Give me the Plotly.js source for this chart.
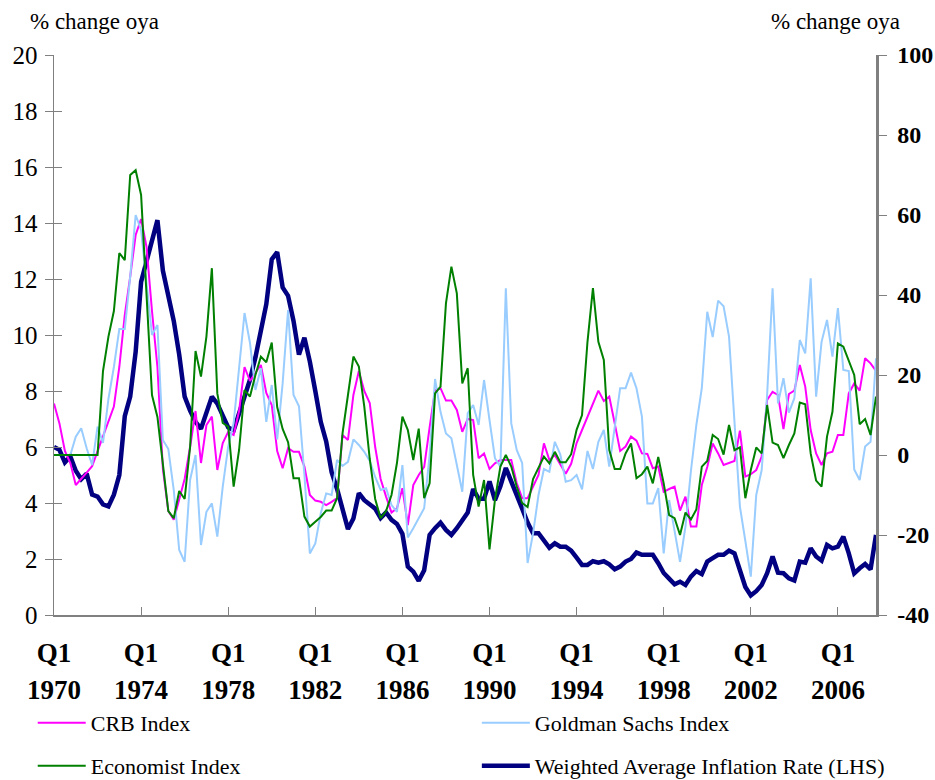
<!DOCTYPE html>
<html><head><meta charset="utf-8">
<script src="https://cdn.plot.ly/plotly-3.0.1.min.js"></script>
<style>body{margin:0;background:#fff}</style>
</head><body><div id="chart" style="width:935px;height:780px"></div>
<script>
// Quarterly categories 1970 Q1 .. 2007 Q4
const firstYear = 1970, lastYear = 2007;
const quarters = [];
for (let y = firstYear; y <= lastYear; y++) for (let q = 1; q <= 4; q++) quarters.push(y + ' Q' + q);

const tickYears = ['1970','1974','1978','1982','1986','1990','1994','1998','2002','2006'];
const leftTicks = [0, 2, 4, 6, 8, 10, 12, 14, 16, 18, 20];
const rightTicks = [-40, -20, 0, 20, 40, 60, 80, 100];

// Weighted Average Inflation Rate (LHS, %)
const inflation = [
 6.0,5.9,5.45,5.66,5.15,4.85,5.05,4.3,4.23,3.95,
 3.88,4.3,5.0,7.1,7.8,9.4,11.9,12.6,13.3,14.1,
 12.3,11.4,10.5,9.3,7.8,7.3,6.9,6.65,7.2,7.8,
 7.55,7.1,6.7,6.6,7.2,7.9,8.4,9.2,10.1,11.1,
 12.7,12.96,11.7,11.4,10.5,9.3,9.9,9.05,8.0,6.9,
 6.2,5.1,4.5,3.8,3.07,3.45,4.35,4.1,3.95,3.8,
 3.46,3.66,3.4,3.25,2.9,1.73,1.55,1.22,1.6,2.86,
 3.1,3.3,3.04,2.86,3.1,3.37,3.66,4.5,4.15,4.15,
 4.77,4.1,4.6,5.25,4.8,4.3,3.8,3.3,2.92,2.92,
 2.68,2.4,2.56,2.44,2.44,2.3,2.05,1.79,1.79,1.92,
 1.87,1.92,1.81,1.63,1.73,1.91,2.0,2.23,2.15,2.15,
 2.15,1.85,1.5,1.3,1.1,1.19,1.07,1.37,1.57,1.46,
 1.91,2.03,2.15,2.15,2.3,2.2,1.6,1.0,0.7,0.85,
 1.07,1.49,2.09,1.51,1.49,1.31,1.23,1.91,1.87,2.38,
 2.09,1.94,2.5,2.38,2.44,2.8,2.2,1.49,1.67,1.82,
 1.63,2.86];

// CRB Index (% change oya, RHS)
const crb = [
 12.9,7.9,1,-2,-7.5,-5.8,-4.4,-2.8,1,4.8,
 8.75,12.1,22,35,44.6,55,59,52,36,22,
 -3.5,-14,-16.2,-11.2,-6,2,11,-2,7.5,9.6,
 -3.75,3,5.8,5,11,22,18.5,20.5,22.5,15.5,
 12.5,1,-3.3,1.7,0.8,0.8,-2.9,-10,-11.4,-11.7,
 -12.5,-11.7,-10.8,5,3.75,15,21,16,13,2,
 -6,-10.4,-14.4,-13.3,-8.3,-17.5,-7.5,-5,-3,6.9,
 16.2,16.7,13.6,13.6,11.25,5.8,9,8.75,-0.8,0.4,
 -3.5,-2.1,-1.25,-1.25,-1.25,-7,-10.8,-10.8,-7.9,-5,
 2.9,-1.25,0,-2.3,-4.7,-2.2,3,6.25,9.6,13.1,
 16.1,13.5,14.6,7.9,1,2.1,4.6,3.6,0.4,0.25,
 -3.3,-2.9,-9.2,-8.5,-7.9,-13.9,-10.4,-17.9,-17.9,-7.5,
 -3,2.9,0.4,-2.5,-2,-1.5,6.1,-5.4,-4.8,-3.75,
 -0.4,13.75,15.8,15,6.5,15.25,16.1,22.5,17.1,6.25,
 0.4,-2.5,0.4,0.8,5,5,15.4,17.9,16.1,24.2,
 22.9,21];

// Goldman Sachs Index (% change oya, RHS)
const goldman = [
 null,null,null,0,4.6,6.7,1.7,-2.5,7.1,3,
 14,22,31.5,31.5,44.6,60,56.25,43,30,32.5,
 3.75,1.5,-8.75,-23.75,-26.7,-6.25,0,-22.5,-14.2,-12.1,
 -20.4,-7.9,2.1,8,22,35.5,28,16.25,21.7,8.3,
 17.5,3.9,17.9,36.25,15,12.2,-5,-24.6,-22.1,-14.6,
 -9.6,-10,-1.25,-2.75,-1.7,3.9,2.5,0.8,-1.5,-5.5,
 -8.75,-8.3,-12.5,-14.2,-2.5,-20.6,-18.3,-15.8,-13.3,0,
 19,10.8,5.4,4.2,-2.1,-9.2,10.4,12.5,7.5,18.75,
 8.75,-0.8,-2.9,41.7,7.9,1.25,-2,-27,-19.6,-10,
 -3.5,-4.2,3.3,0.2,-6.7,-6.3,-5,-8.6,1,-3.5,
 3.3,6.25,-2.9,7.1,16.7,16.7,20.6,16.7,9.6,-12.1,
 -12.1,-8.3,-24.6,-11.25,-18.75,-26.7,-17.9,-4,7.5,16.7,
 35.8,29.5,38.6,37.2,29.6,7.5,-12.9,-21.5,-30.4,-10,
 -3.75,15,41.7,12.9,19.2,10.6,14.2,28.75,25.4,44.2,
 14.6,28.3,33.75,24.6,36.7,21.25,21,-3.6,-6.25,2.1,
 3.3,24.2];

// Economist Index (% change oya, RHS)
const economist = [
 0,0,0,0,0,0,0,0,0,21,
 29.6,36,50.5,48.7,70,71.2,65,40,15,9.5,
 -2,-14,-15.8,-9,-11,2,26,19.6,29.6,46.7,
 15.4,8,7.1,-7.9,1.25,16.2,14.6,20,24.6,23.2,
 28.1,12,6.5,3.2,-5.8,-5.8,-15.4,-17.9,-16.7,-15.5,
 -13.9,-13.9,-10.8,5.4,15,24.6,22.1,12.1,-1,-11,
 -15.8,-14,-10,-2,9.6,6.25,-1.25,6.6,-10.8,-7.1,
 15.4,17.1,37.9,47.1,40.4,17.9,21.7,-5,-12.9,-6.25,
 -23.6,-11.25,-2.9,0,-2.9,-7.9,-12,-13,-6,-3,
 -0.4,-2.1,0.8,-1.8,-1.8,0.2,6.3,10,28.3,41.7,
 28.3,23.75,1.25,-3.5,-3.5,0.4,2.9,-5.8,-4.8,-2.9,
 -7.1,-0.5,-7.1,-15,-15.8,-20,-14.4,-16.1,-13.6,-2.9,
 -1.5,5,4,0.1,7.5,1.2,1.9,-10.8,-3.75,1.9,
 0.4,12.5,3.1,2.5,-0.8,2.5,5.4,13.1,12.7,0.4,
 -6.4,-7.9,4.6,10.8,27.9,27.1,23.3,20,7.7,9,
 5,14.6];

const idx = quarters.map((_, i) => i);
const tickPos = tickYears.map(y => quarters.indexOf(y + ' Q1'));
const serif = "'Liberation Serif', 'Times New Roman', serif";
const axisGrey = '#808080';

const traces = [
  {x: idx, y: crb, yaxis: 'y2', name: 'CRB Index', mode: 'lines', line: {color: '#FF00FF', width: 2}, legend: 'legend'},
  {x: idx, y: goldman, yaxis: 'y2', name: 'Goldman Sachs Index', mode: 'lines', line: {color: '#99CCFF', width: 2}, legend: 'legend2'},
  {x: idx, y: economist, yaxis: 'y2', name: 'Economist Index', mode: 'lines', line: {color: '#008000', width: 2}, legend: 'legend3'},
  {x: idx, y: inflation, yaxis: 'y', name: 'Weighted Average Inflation Rate (LHS)', mode: 'lines', line: {color: '#000080', width: 4.5}, legend: 'legend4'},
  // helper trace so the overlay axes (year labels / inner ticks) are drawn
  {x: [0, idx.length - 1], y: [null, null], xaxis: 'x2', yaxis: 'y3', showlegend: false, hoverinfo: 'skip', mode: 'lines'}
];

function legendAt(x, y) {
  return {
    xref: 'container', yref: 'container', x: x, y: y, xanchor: 'left', yanchor: 'middle',
    itemwidth: 48, font: {family: serif, size: 22, color: '#000'}, bgcolor: 'rgba(0,0,0,0)'
  };
}

const layout = {
  width: 935, height: 780,
  margin: {l: 54, r: 59, t: 55, b: 165, autoexpand: false},
  paper_bgcolor: '#fff', plot_bgcolor: '#fff',
  font: {family: serif, color: '#000'},
  showlegend: true,
  xaxis: {
    range: [0, idx.length - 1], tickmode: 'array', tickvals: tickPos, ticktext: tickPos.map(() => 'Q1'),
    ticks: 'inside', ticklen: 8, tickcolor: axisGrey, tickwidth: 1, automargin: false,
    showline: true, linecolor: axisGrey, linewidth: 1.5, showgrid: false, zeroline: false,
    tickfont: {family: serif, size: 27, color: '#000', weight: 'bold'}, ticklabelstandoff: 13
  },
  xaxis2: {
    overlaying: 'x', anchor: 'y', side: 'bottom', range: [0, idx.length - 1], automargin: false,
    tickmode: 'array', tickvals: tickPos, ticktext: tickYears,
    ticks: '', showline: false, showgrid: false, zeroline: false,
    tickfont: {family: serif, size: 27, color: '#000', weight: 'bold'}, ticklabelstandoff: 56
  },
  yaxis: {
    range: [0, 20], tickmode: 'array', tickvals: leftTicks, ticktext: leftTicks.map(String),
    ticks: 'outside', ticklen: 8, tickcolor: axisGrey, automargin: false,
    showline: true, linecolor: axisGrey, linewidth: 1.5, showgrid: false, zeroline: false,
    tickfont: {family: serif, size: 25, color: '#000'}, ticklabelstandoff: 2
  },
  yaxis3: {
    overlaying: 'y', side: 'left', anchor: 'x', range: [0, 20], tickmode: 'array', tickvals: leftTicks,
    ticks: 'inside', ticklen: 8, automargin: false,
    tickcolor: axisGrey, showticklabels: false, showline: false, showgrid: false, zeroline: false
  },
  yaxis2: {
    overlaying: 'y', side: 'right', anchor: 'x', range: [-40, 100], tickmode: 'array', tickvals: rightTicks,
    ticktext: rightTicks.map(String), ticks: 'outside', ticklen: 8, automargin: false,
    tickcolor: axisGrey, showline: true, linecolor: axisGrey, linewidth: 2.5, showgrid: false, zeroline: false,
    tickfont: {family: serif, size: 24, color: '#000', weight: 'bold'}, ticklabelstandoff: 6
  },
  legend: legendAt(0.035, 0.073),
  legend2: legendAt(0.51, 0.073),
  legend3: legendAt(0.035, 0.018),
  legend4: legendAt(0.51, 0.018),
  annotations: [
    {text: '% change oya', xref: 'paper', yref: 'paper', x: -0.032, y: 1.0, yshift: 34, xanchor: 'left', yanchor: 'middle', showarrow: false, font: {family: serif, size: 23, color: '#000'}},
    {text: '% change oya', xref: 'paper', yref: 'paper', x: 1.032, y: 1.0, yshift: 34, xanchor: 'right', yanchor: 'middle', showarrow: false, font: {family: serif, size: 23, color: '#000'}}
  ]
};

Plotly.newPlot('chart', traces, layout, {displayModeBar: false, staticPlot: true});
</script></body></html>
